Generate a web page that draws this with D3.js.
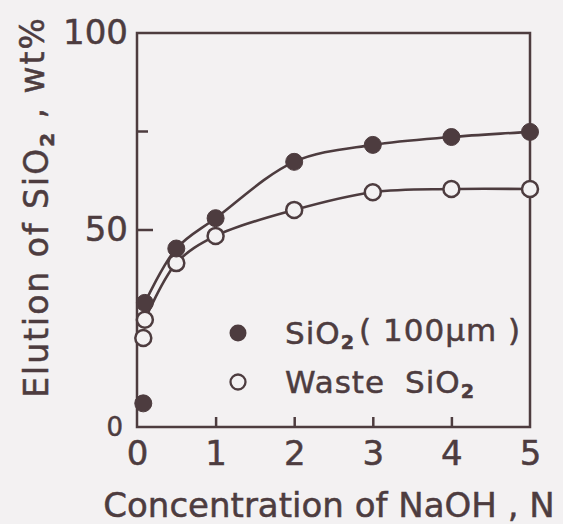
<!DOCTYPE html>
<html>
<head>
<meta charset="utf-8">
<script src="https://cdn.jsdelivr.net/npm/d3@7"></script>
<style>
  html, body { margin: 0; padding: 0; background: #f3f1f2; }
  svg { display: block; }
  text { font-family: "DejaVu Sans", sans-serif; fill: #4d3c3f; stroke: #4d3c3f; stroke-width: 0.5px; }
</style>
</head>
<body>
<svg id="chart" width="563" height="524"></svg>
<script>
// NaOH concentration (N) and SiO2 elution (wt%) for the two silica sources
const naohSilica = [0.08, 0.1, 0.5, 1, 2, 3, 4, 5];
const elutionSilica = [6.0, 31.5, 45.3, 53.0, 67.3, 71.6, 73.6, 74.9];
const naohWaste = [0.08, 0.1, 0.5, 1, 2, 3, 4, 5];
const elutionWaste = [22.6, 27.2, 41.6, 48.5, 55.1, 59.6, 60.4, 60.4];
// Curves are drawn from the second point onward
const curveStart = 1;

const xTicks = [0, 1, 2, 3, 4, 5];
const yTicks = [0, 50, 100];
const yTickMarks = [50, 75];

const ink = "#4d3c3f";
const paper = "#f3f1f2";
const svg = d3.select("#chart");
const plotLeft = 137, plotRight = 530, plotTop = 33, plotBottom = 427;

const x = d3.scaleLinear().domain([0, 5]).range([plotLeft, plotRight]);
const y = d3.scaleLinear().domain([0, 100]).range([plotBottom, plotTop]);

// Frame
svg.append("rect")
  .attr("x", plotLeft).attr("y", plotTop)
  .attr("width", plotRight - plotLeft).attr("height", plotBottom - plotTop)
  .attr("fill", "none").attr("stroke", ink).attr("stroke-width", 2.5);

// X axis: inward ticks, labels below
const xAxis = d3.axisBottom(x).tickValues(xTicks).tickSizeInner(-10).tickSizeOuter(0).tickPadding(14)
  .tickFormat(d3.format("d"));
const gx = svg.append("g").attr("transform", `translate(0,${plotBottom})`).call(xAxis);
gx.select(".domain").remove();
gx.selectAll(".tick line").attr("stroke", ink).attr("stroke-width", 2.5)
  .filter(d => d === 0 || d === 5).remove();
gx.selectAll(".tick text").attr("font-size", 34).attr("font-family", null).style("fill", ink);

// Y axis: labels only, tick marks drawn separately
const yAxis = d3.axisLeft(y).tickValues(yTicks).tickSize(0).tickPadding(9).tickFormat(d3.format("d"));
const gy = svg.append("g").attr("transform", `translate(${plotLeft},0)`).call(yAxis);
gy.select(".domain").remove();
gy.selectAll(".tick text").attr("font-size", 34).attr("font-family", null).style("fill", ink);
gy.selectAll(".tick").filter(d => d === 0).select("text")
  .attr("font-size", 26).attr("x", -14);

svg.append("g").selectAll("line").data(yTickMarks).join("line")
  .attr("x1", plotLeft).attr("x2", d => plotLeft + (d === 50 ? 16 : 11))
  .attr("y1", d => y(d)).attr("y2", d => y(d))
  .attr("stroke", ink).attr("stroke-width", 2.5);

// Curves
const line = d3.line().x(d => x(d[0])).y(d => y(d[1])).curve(d3.curveCatmullRom.alpha(0.5));
const silicaPts = naohSilica.map((v, i) => [v, elutionSilica[i]]);
const wastePts = naohWaste.map((v, i) => [v, elutionWaste[i]]);
[silicaPts, wastePts].forEach(pts => {
  svg.append("path").datum(pts.slice(curveStart))
    .attr("d", line).attr("fill", "none").attr("stroke", ink).attr("stroke-width", 2.6);
});

// Markers
svg.append("g").selectAll("circle").data(wastePts).join("circle")
  .attr("cx", d => x(d[0])).attr("cy", d => y(d[1])).attr("r", 8)
  .attr("fill", paper).attr("stroke", ink).attr("stroke-width", 2.5);
svg.append("g").selectAll("circle").data(silicaPts).join("circle")
  .attr("cx", d => x(d[0])).attr("cy", d => y(d[1])).attr("r", 8.5)
  .attr("fill", ink).attr("stroke", ink).attr("stroke-width", 1);

// Legend
const legend = svg.append("g");
legend.append("circle").attr("cx", 238).attr("cy", 333).attr("r", 8.5).attr("fill", ink);
legend.append("circle").attr("cx", 238).attr("cy", 382).attr("r", 7.5)
  .attr("fill", "none").attr("stroke", ink).attr("stroke-width", 2.3);

function siO2(t, size) {
  t.append("tspan").text("SiO");
  t.append("tspan").text("2").attr("font-size", size * 0.62).attr("font-weight", "bold").attr("dy", "0.28em");
}
const legendSize = 31;
const l1 = legend.append("text").attr("x", 285).attr("y", 344)
  .attr("font-size", legendSize).attr("letter-spacing", 1);
siO2(l1, legendSize);
l1.append("tspan").text("( 100µm )").attr("dy", "-0.28em").attr("dx", 4);

const l2 = legend.append("text").attr("x", 285).attr("y", 393)
  .attr("font-size", legendSize).attr("letter-spacing", 1);
l2.append("tspan").text("Waste");
l2.append("tspan").text("SiO").attr("dx", 20);
l2.append("tspan").text("2").attr("font-size", legendSize * 0.62).attr("font-weight", "bold").attr("dy", "0.28em");

// Axis titles
svg.append("text").attr("x", 329).attr("y", 517).attr("text-anchor", "middle")
  .attr("font-size", 34).text("Concentration of NaOH , N");

const yt = svg.append("text").attr("transform", "translate(48,207) rotate(-90)")
  .attr("text-anchor", "middle").attr("font-size", 33).attr("letter-spacing", 2);
yt.append("tspan").text("Elution of ");
yt.append("tspan").text("SiO");
yt.append("tspan").text("2").attr("font-size", 20).attr("font-weight", "bold").attr("dy", "0.28em");
yt.append("tspan").text(" , wt%").attr("dy", "-0.28em");
</script>
</body>
</html>
